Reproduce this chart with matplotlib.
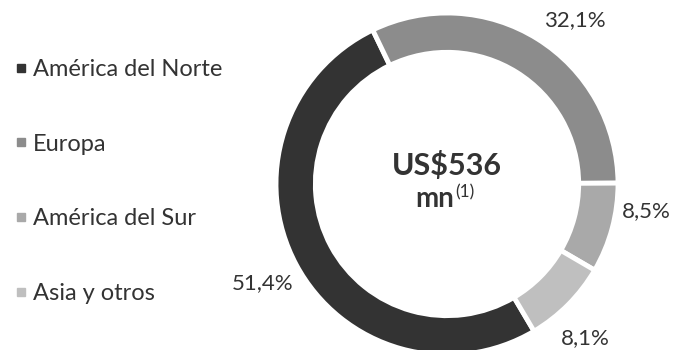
import matplotlib.pyplot as plt
from matplotlib.lines import Line2D

# Revenue breakdown by region
regions = ['América del Norte', 'Europa', 'América del Sur', 'Asia y otros']
shares = [51.4, 32.1, 8.5, 8.1]
colors = ['#333333', '#8c8c8c', '#a9a9a9', '#bfbfbf']
label_pos = [(-1.08, -0.58), (0.75, 0.96), (1.165, -0.16), (0.81, -0.90)]
total_label = 'US$536'

plt.rcParams['font.family'] = ['Lato', 'DejaVu Sans']

fig = plt.figure(figsize=(6.73, 3.5), dpi=100)
ax = fig.add_axes([276 / 673, -5 / 350, 342 / 673, 342 / 350])

# start so that Europa ends exactly at 3 o'clock
start = 360 * (shares[1] + shares[0]) / 100
wedges, _ = ax.pie(shares, colors=colors, startangle=start, counterclock=False,
                   radius=1.0,
                   wedgeprops=dict(width=0.23, edgecolor='white', linewidth=3.5))
for w in wedges:
    w.set_clip_on(False)
ax.set_xlim(-1, 1)
ax.set_ylim(-1, 1)
ax.set_aspect('auto')
ax.axis('off')

for val, (x, y) in zip(shares, label_pos):
    ax.text(x, y, f'{val:.1f}%'.replace('.', ','), ha='center', va='center',
            fontsize=16, color='#333333')

ax.text(0, 0.11, total_label, ha='center', va='center', fontsize=22,
        fontweight='bold', color='#333333')
ax.text(-0.075, -0.085, 'mn', ha='center', va='center', fontsize=20,
        fontweight='bold', color='#333333')
ax.text(0.05, -0.05, '(1)', ha='left', va='center', fontsize=12.5,
        color='#333333')

handles = [Line2D([], [], marker='s', linestyle='none', markersize=5.5,
                  markerfacecolor=c, markeredgecolor=c) for c in colors]
leg = fig.legend(handles, regions, loc='upper left', bbox_to_anchor=(0.0208, 0.832),
                 frameon=False, fontsize=17, handlelength=0.6, borderpad=0,
                 borderaxespad=0, handletextpad=0.21, labelspacing=2.28,
                 labelcolor='#333333')

fig.savefig('out.png', dpi=100)
